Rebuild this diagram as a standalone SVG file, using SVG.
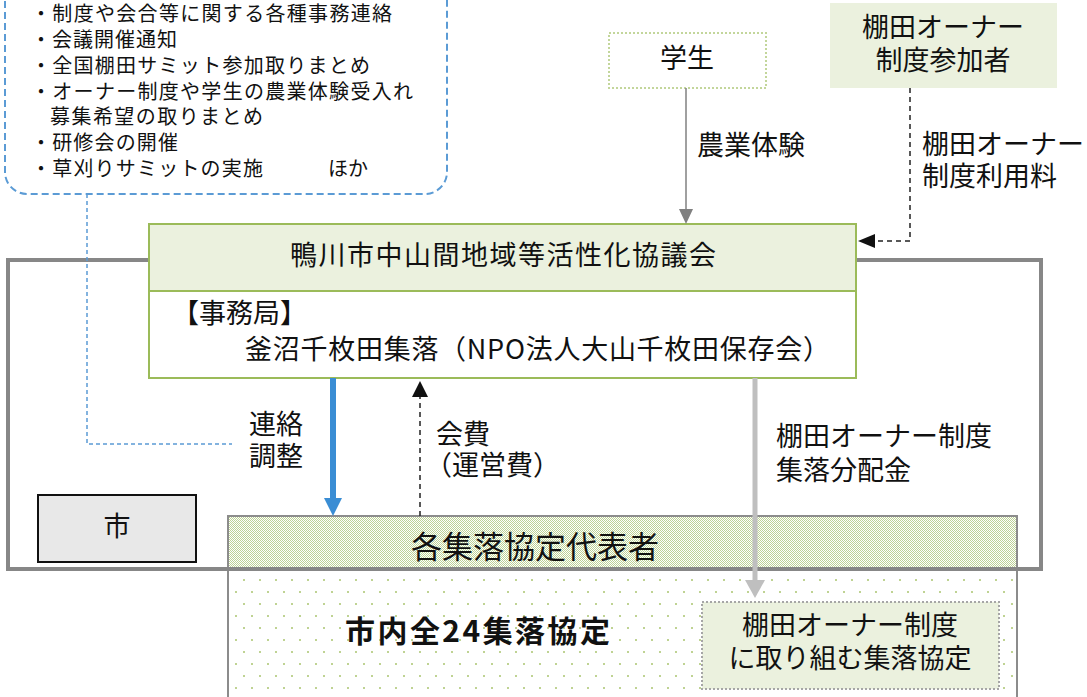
<svg xmlns="http://www.w3.org/2000/svg" width="1087" height="697" viewBox="0 0 1087 697">
<defs>
<style>
text{font-family:"Noto Sans CJK JP","Noto Sans",sans-serif;fill:#111;}
.t27{font-size:27px;}
.t20{font-size:20px;}
.mid{text-anchor:middle;}
</style>
<pattern id="check" width="2" height="2" patternUnits="userSpaceOnUse">
<rect width="2" height="2" fill="#ffffff"/>
<rect x="0" y="0" width="1" height="1" fill="#bcd295"/>
<rect x="1" y="1" width="1" height="1" fill="#bcd295"/>
</pattern>
<pattern id="dots" width="16" height="24" patternUnits="userSpaceOnUse">
<rect width="16" height="24" fill="#ffffff"/>
<rect x="3" y="3" width="2" height="2" fill="#bfd393"/>
<rect x="11" y="15" width="2" height="2" fill="#bfd393"/>
</pattern>
</defs>
<rect width="1087" height="697" fill="#ffffff"/>

<g id="tasks">
<rect x="5" y="-30" width="442" height="224" rx="22" fill="none" stroke="#5b9bd5" stroke-width="2" stroke-dasharray="7,4"/>
<text class="t20" x="31" y="21" textLength="361">・制度や会合等に関する各種事務連絡</text>
<text class="t20" x="31" y="47" textLength="146">・会議開催通知</text>
<text class="t20" x="31" y="73" textLength="339">・全国棚田サミット参加取りまとめ</text>
<text class="t20" x="31" y="99" textLength="382">・オーナー制度や学生の農業体験受入れ</text>
<text class="t20" x="50" y="124" textLength="213">募集希望の取りまとめ</text>
<text class="t20" x="31" y="150" textLength="147">・研修会の開催</text>
<text class="t20" x="31" y="176" textLength="232">・草刈りサミットの実施</text>
<text class="t20" x="328" y="176">ほか</text>
</g>

<g id="kyotei">
<rect x="228" y="569" width="789" height="140" fill="url(#dots)" stroke="#8c8c8c" stroke-width="2"/>
<text x="345" y="642" font-size="30" font-weight="bold" textLength="265">市内全24集落協定</text>
</g>

<g id="daihyo">
<rect x="228" y="516" width="789" height="53" fill="url(#check)" stroke="#8c8c8c" stroke-width="2"/>
<text class="mid" x="535" y="558" font-size="31">各集落協定代表者</text>
</g>

<g id="outer">
<rect x="8" y="260" width="1033" height="309" fill="none" stroke="#878787" stroke-width="4"/>
</g>

<g id="council">
<rect x="149" y="224" width="707" height="67" fill="#ebf1de" stroke="#9bbb59" stroke-width="2"/>
<rect x="149" y="291" width="707" height="87" fill="#ffffff" stroke="#9bbb59" stroke-width="2"/>
<text class="t27 mid" x="503" y="265" textLength="426">鴨川市中山間地域等活性化協議会</text>
<text class="t27" x="172" y="323">【事務局】<tspan x="245" y="359" textLength="585">釜沼千枚田集落（NPO法人大山千枚田保存会）</tspan></text>
</g>

<g id="city">
<rect x="38" y="495" width="158" height="67" fill="#e8e8e8" stroke="#111" stroke-width="2"/>
<text class="t27 mid" x="117" y="536">市</text>
</g>

<g id="student">
<rect x="609" y="33" width="157" height="55" fill="#ffffff" stroke="#c3d69b" stroke-width="2" stroke-dasharray="2,2"/>
<text class="t27 mid" x="687" y="68">学生</text>
</g>

<g id="owners">
<rect x="830" y="3" width="227" height="85" fill="#ebf1de"/>
<text class="t27 mid" x="943" y="37">棚田オーナー<tspan x="943" y="70">制度参加者</tspan></text>
</g>

<g id="owner-kyotei">
<rect x="702" y="602" width="297" height="87" fill="#ebf1de" stroke="#a6a6a6" stroke-width="2" stroke-dasharray="2,2"/>
<text class="t27 mid" x="850" y="635">棚田オーナー制度<tspan x="850" y="668">に取り組む集落協定</tspan></text>
</g>

<g id="connectors">
<path d="M87 194 V444 H232" fill="none" stroke="#5b9bd5" stroke-width="1.5" stroke-dasharray="4,3"/>
<line x1="686" y1="88" x2="686" y2="211" stroke="#808080" stroke-width="1.5"/>
<polygon points="679,209 693,209 686,224" fill="#808080"/>
<path d="M910 88 V241 H873" fill="none" stroke="#222" stroke-width="1.5" stroke-dasharray="5,4"/>
<polygon points="858,241 875,234 875,248" fill="#111"/>
<line x1="333" y1="378" x2="333" y2="500" stroke="#3a8dd4" stroke-width="6"/>
<polygon points="324,498 342,498 333,516" fill="#3a8dd4"/>
<line x1="420" y1="516" x2="420" y2="396" stroke="#222" stroke-width="1.5" stroke-dasharray="5,4"/>
<polygon points="412,397 428,397 420,381" fill="#111"/>
<line x1="755" y1="378" x2="755" y2="582" stroke="#bfbfbf" stroke-width="5"/>
<polygon points="745,580 765,580 755,598" fill="#bfbfbf"/>
</g>

<g id="labels">
<text class="t27" x="697" y="155">農業体験</text>
<text class="t27" x="922" y="154">棚田オーナー<tspan x="922" y="186">制度利用料</tspan></text>
<text class="t27" x="249" y="434">連絡<tspan x="249" y="466">調整</tspan></text>
<text class="t27" x="436" y="444">会費<tspan x="425" y="475">（運営費）</tspan></text>
<text class="t27" x="776" y="446">棚田オーナー制度<tspan x="776" y="480">集落分配金</tspan></text>
</g>
</svg>
